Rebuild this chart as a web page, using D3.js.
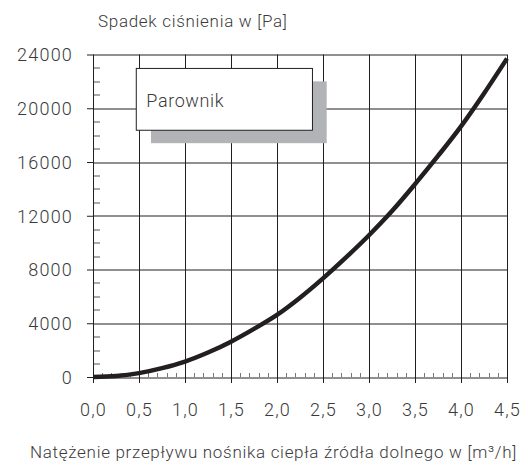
<!DOCTYPE html>
<html lang="pl">
<head>
<meta charset="utf-8">
<style>
  body { margin: 0; background: #fff; }
  text { font-family: Roboto, "Liberation Sans", Arial, sans-serif; font-weight: 300; fill: #3a3a3a; }
  .tick text { font-size: 18px; letter-spacing: 1.2px; }
  .title { font-size: 17px; letter-spacing: 0.7px; }
</style>
<script src="https://cdn.jsdelivr.net/npm/d3@7"></script>
</head>
<body>
<div id="chart"></div>
<script>
// flow [m3/h] and pressure drop [Pa]
var flow     = [0, 0.25, 0.5, 0.75, 1.0, 1.25, 1.5, 1.75, 2.0, 2.25, 2.5, 2.75, 3.0, 3.25, 3.5, 3.75, 4.0, 4.25, 4.5];
var pressure = [0, 70, 290, 660, 1150, 1820, 2630, 3580, 4620, 5900, 7340, 8900, 10550, 12350, 14350, 16450, 18650, 21100, 23700];

var xTicks = [0, 0.5, 1, 1.5, 2, 2.5, 3, 3.5, 4, 4.5];
var yTicks = [0, 4000, 8000, 12000, 16000, 20000, 24000];
var seriesName = "Parownik";
var yTitle = "Spadek ciśnienia w [Pa]";
var xTitle = "Natężenie przepływu nośnika ciepła źródła dolnego w [m³/h]";

var width = 528, height = 467;
var margin = {left: 93, top: 54.5, right: 21, bottom: 90};
var w = width - margin.left - margin.right,
    h = height - margin.top - margin.bottom;

var svg = d3.select("#chart").append("svg")
  .attr("width", width)
  .attr("height", height);

var g = svg.append("g")
  .attr("transform", "translate(" + margin.left + "," + margin.top + ")");

var x = d3.scaleLinear().domain([0, 4.5]).range([0, w]);
var y = d3.scaleLinear().domain([0, 24000]).range([h, 0]);

// minor ticks
g.append("g")
  .selectAll("line")
  .data(d3.range(0, 4.5, 0.1).filter(function(d){ return Math.abs(d*2 - Math.round(d*2)) > 0.01; }))
  .enter().append("line")
  .attr("x1", function(d){ return Math.round(x(d)) + 0.5; })
  .attr("x2", function(d){ return Math.round(x(d)) + 0.5; })
  .attr("y1", h).attr("y2", h - 4)
  .attr("stroke", "#777").attr("stroke-width", 1);

g.append("g")
  .selectAll("line")
  .data(d3.range(1000, 24000, 1000).filter(function(d){ return d % 4000 != 0; }))
  .enter().append("line")
  .attr("x1", 0).attr("x2", 7)
  .attr("y1", function(d){ return Math.round(y(d)) + 0.5; })
  .attr("y2", function(d){ return Math.round(y(d)) + 0.5; })
  .attr("stroke", "#555").attr("stroke-width", 1);

// grid
g.append("g")
  .selectAll("line")
  .data(xTicks)
  .enter().append("line")
  .attr("x1", function(d){ return Math.round(x(d)) + 0.5; })
  .attr("x2", function(d){ return Math.round(x(d)) + 0.5; })
  .attr("y1", 0).attr("y2", h)
  .attr("stroke", "#231f20").attr("stroke-width", 1);

g.append("g")
  .selectAll("line")
  .data(yTicks)
  .enter().append("line")
  .attr("x1", 0).attr("x2", w)
  .attr("y1", function(d){ return Math.round(y(d)) + 0.5; })
  .attr("y2", function(d){ return Math.round(y(d)) + 0.5; })
  .attr("stroke", "#231f20").attr("stroke-width", 1);

// axes
var xAxis = d3.axisBottom(x)
  .tickValues(xTicks)
  .tickSize(6)
  .tickPadding(20)
  .tickFormat(function(d){ return d3.format(".1f")(d).replace(".", ","); });

var yAxis = d3.axisLeft(y)
  .tickValues(yTicks)
  .tickSize(6)
  .tickPadding(14)
  .tickFormat(function(d){ return d; });

g.append("g")
  .attr("transform", "translate(0," + h + ")")
  .call(xAxis)
  .call(function(s){ s.select(".domain").remove(); })
  .call(function(s){ s.selectAll("line").attr("stroke", "#231f20"); });

g.append("g")
  .call(yAxis)
  .call(function(s){ s.select(".domain").remove(); })
  .call(function(s){ s.selectAll("line").attr("stroke", "#231f20"); })
  .call(function(s){ s.selectAll("text").attr("dy", "0.36em"); });

// legend box with shadow
g.append("rect")
  .attr("x", x(0.63)).attr("y", y(22000))
  .attr("width", x(2.54) - x(0.63))
  .attr("height", y(17400) - y(22000))
  .attr("fill", "#b2b3b6");

g.append("rect")
  .attr("x", x(0.465) + 0.5).attr("y", y(23000) + 0.5)
  .attr("width", x(2.38) - x(0.465))
  .attr("height", y(18400) - y(23000))
  .attr("fill", "#fff")
  .attr("stroke", "#231f20").attr("stroke-width", 1);

g.append("text")
  .attr("x", x(0.58)).attr("y", y(20100))
  .style("font-size", "18px")
  .style("letter-spacing", "0.6px")
  .text(seriesName);

// curve
var line = d3.line()
  .x(function(d, i){ return x(flow[i]); })
  .y(function(d){ return y(d); })
  .curve(d3.curveMonotoneX);

g.append("path")
  .datum(pressure)
  .attr("d", line)
  .attr("fill", "none")
  .attr("stroke", "#231f20")
  .attr("stroke-width", 4.5);

// titles
svg.append("text")
  .attr("class", "title")
  .attr("x", 98).attr("y", 27)
  .text(yTitle);

svg.append("text")
  .attr("class", "title")
  .attr("x", 30).attr("y", 458)
  .text(xTitle);
</script>
</body>
</html>
